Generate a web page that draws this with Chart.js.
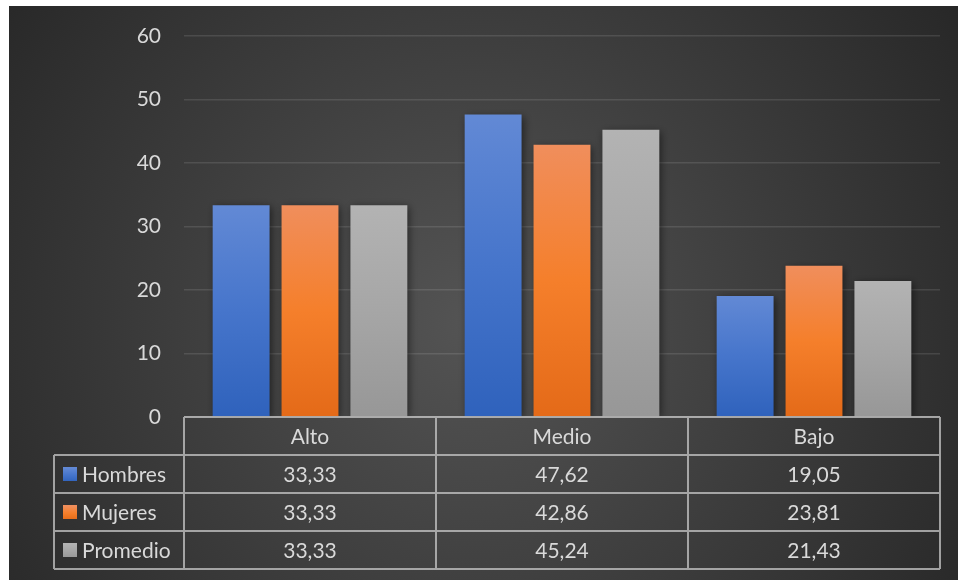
<!DOCTYPE html>
<html lang="es">
<head>
<meta charset="utf-8">
<title>Nivel por sexo</title>
<script src="https://cdn.jsdelivr.net/npm/chart.js@4/dist/chart.umd.min.js"></script>
<style>
  html, body { margin: 0; padding: 0; background: #ffffff; }
  #wrap { position: absolute; left: 9px; top: 6px; width: 949px; height: 574px; }
  canvas { display: block; }
</style>
</head>
<body>
<div id="wrap"><canvas id="chart" width="949" height="574"></canvas></div>
<script>
// Categories and series values
const categories = ['Alto', 'Medio', 'Bajo'];
const hombres = [33.33, 47.62, 19.05];
const mujeres = [33.33, 42.86, 23.81];
const promedio = [33.33, 45.24, 21.43];
const seriesNames = ['Hombres', 'Mujeres', 'Promedio'];
const yTicks = [0, 10, 20, 30, 40, 50, 60];

const FONT = 'Lato, "Noto Sans", sans-serif';
const TEXT = '#d9d9d9';
const LINE = 'rgba(200,200,200,0.75)';

// Three-stop vertical gradient colours per series
const stops = [
  ['#6289d5', '#4675cb', '#2f62bc'],
  ['#f08e5c', '#f57f2b', '#e46a18'],
  ['#b3b3b3', '#a6a6a6', '#979797']
];

function makeGradient(ctx, top, bottom, s) {
  const g = ctx.createLinearGradient(0, top, 0, bottom);
  g.addColorStop(0, stops[s][0]);
  g.addColorStop(0.5, stops[s][1]);
  g.addColorStop(1, stops[s][2]);
  return g;
}

function barFill(s) {
  return (c) => {
    const chart = c.chart;
    const y = chart.scales.y;
    if (!y || c.raw === undefined) return stops[s][1];
    const top = y.getPixelForValue(c.raw);
    const base = y.getPixelForValue(0);
    if (!isFinite(top) || !isFinite(base) || top === base) return stops[s][1];
    return makeGradient(chart.ctx, top, base, s);
  };
}

const fmt = (v) => v.toFixed(2).replace('.', ',');

// Dark radial backdrop
const backdrop = {
  id: 'backdrop',
  beforeDraw(chart) {
    const { ctx, width, height } = chart;
    const g = ctx.createRadialGradient(width * 0.49, height * 0.55, 0, width * 0.49, height * 0.55, 600);
    g.addColorStop(0, '#545454');
    g.addColorStop(1, '#262626');
    ctx.save();
    ctx.fillStyle = g;
    ctx.fillRect(0, 0, width, height);
    ctx.restore();
  }
};

// Soft shadow behind the bars
const barShadow = {
  id: 'barShadow',
  beforeDatasetsDraw(chart) {
    const ctx = chart.ctx;
    ctx.save();
    ctx.shadowColor = 'rgba(0,0,0,0.5)';
    ctx.shadowBlur = 8;
    ctx.shadowOffsetX = 2;
    ctx.shadowOffsetY = 2;
  },
  afterDatasetsDraw(chart) {
    chart.ctx.restore();
  }
};

// Data table under the plot: header row with categories, one row per series
const dataTable = {
  id: 'dataTable',
  afterDraw(chart) {
    const { ctx, chartArea } = chart;
    const x = chart.scales.x;
    const rowH = 38;
    const legendLeft = 45;
    const left = chartArea.left, right = chartArea.right;
    const top = chartArea.bottom;
    const n = categories.length;
    const colW = (right - left) / n;
    const rows = chart.data.datasets.length;
    const bottom = top + rowH * (rows + 1);

    ctx.save();
    ctx.strokeStyle = LINE;
    ctx.lineWidth = 2;
    ctx.beginPath();
    // header top border
    ctx.moveTo(left, top); ctx.lineTo(right, top);
    // row borders
    for (let r = 1; r <= rows + 1; r++) {
      const yy = top + rowH * r;
      ctx.moveTo(legendLeft, yy); ctx.lineTo(right, yy);
    }
    // column borders
    for (let c = 0; c <= n; c++) {
      const xx = left + colW * c;
      ctx.moveTo(xx, top); ctx.lineTo(xx, bottom);
    }
    ctx.moveTo(legendLeft, top + rowH); ctx.lineTo(legendLeft, bottom);
    ctx.stroke();

    ctx.fillStyle = TEXT;
    ctx.font = '21px ' + FONT;
    ctx.textBaseline = 'middle';
    ctx.textAlign = 'center';
    categories.forEach((cat, i) => {
      ctx.fillText(cat, x.getPixelForValue(i), top + rowH / 2 + 1);
    });

    chart.data.datasets.forEach((ds, r) => {
      const cy = top + rowH * (r + 1) + rowH / 2 + 1;
      ctx.textAlign = 'center';
      ctx.fillStyle = TEXT;
      ds.data.forEach((v, i) => {
        ctx.fillText(fmt(v), x.getPixelForValue(i), cy);
      });
      // legend key
      const sq = 14;
      ctx.fillStyle = makeGradient(ctx, cy - sq / 2, cy + sq / 2, r);
      ctx.fillRect(legendLeft + 9, cy - sq / 2 - 1, sq, sq);
      ctx.fillStyle = TEXT;
      ctx.textAlign = 'left';
      ctx.fillText(ds.label, legendLeft + 28, cy);
    });
    ctx.restore();
  }
};

const seriesData = [hombres, mujeres, promedio];

new Chart(document.getElementById('chart'), {
  type: 'bar',
  data: {
    labels: categories,
    datasets: seriesData.map((d, s) => ({
      label: seriesNames[s],
      data: d,
      backgroundColor: barFill(s),
      borderWidth: 0,
      categoryPercentage: 0.82,
      barPercentage: 0.826
    }))
  },
  options: {
    responsive: false,
    animation: false,
    layout: { padding: { top: 30, right: 18, bottom: 163, left: 0 } },
    plugins: {
      legend: { display: false },
      tooltip: { enabled: false }
    },
    scales: {
      x: { display: false },
      y: {
        min: 0,
        max: 60,
        afterFit(scale) {
          scale.width = 175;
          scale.paddingTop = 0;
          scale.paddingBottom = 0;
        },
        afterBuildTicks(scale) { scale.ticks = yTicks.map(v => ({ value: v })); },
        border: { display: false },
        grid: { color: 'rgba(255,255,255,0.11)', lineWidth: 1.5, drawTicks: false },
        ticks: {
          color: TEXT,
          padding: 23,
          font: { family: FONT, size: 21 }
        }
      }
    }
  },
  plugins: [backdrop, barShadow, dataTable]
});
</script>
</body>
</html>
